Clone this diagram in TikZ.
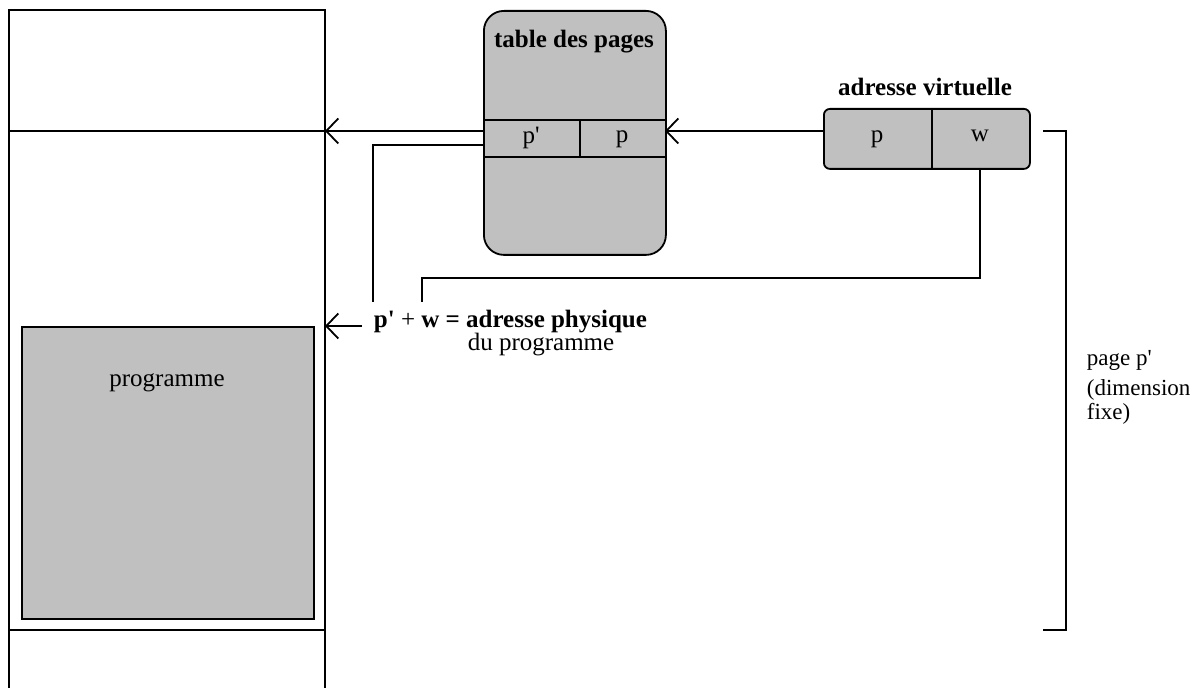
\documentclass[tikz,border=0pt]{standalone}
\usepackage{fontspec}
\setmainfont{Liberation Serif}
\usetikzlibrary{arrows.meta}
\definecolor{shade}{HTML}{C0C0C0}
\newcommand{\prm}{\textquotesingle}
\begin{document}
\begin{tikzpicture}[x=0.5pt,y=-0.5pt,
  line width=0.9pt,
  every node/.style={font=\fontsize{12.5}{14}\selectfont, inner sep=0pt},
  arr/.style={-{Straight Barb[length=6pt,width=12.5pt]}},
  box/.style={draw, fill=shade, anchor=north west},
  lbl/.style={font=\fontsize{12.5}{14}\selectfont\bfseries},
  side/.style={anchor=west, align=left, font=\fontsize{11.5}{10}\selectfont}]
\useasboundingbox (0,0) rectangle (1197,688);

% memory column
\draw (9,688) -- (9,10) -- (325,10) -- (325,688);
\draw (9,131) -- (325,131);
\draw (9,630) -- (325,630);
\coordinate (memA) at (325,131);
\coordinate (memB) at (325,326);

% program block
\node[box, minimum width=146pt, minimum height=146pt] (prog) at (21,326) {};
\node (progtxt) at (167,383) {programme};

% page table
\node[box, rounded corners=10pt, minimum width=91pt, minimum height=122pt] (tbl) at (483,10) {};
\node[lbl] (tbltitle) at (574,42) {table des pages};
\draw (483,120) -- (665,120);
\draw (483,157) -- (665,157);
\draw (580,120) -- (580,157);
\node (pp) at (531,138) {p\prm};
\node (p1) at (622,139) {p};
\coordinate (tblL) at (483,131);
\coordinate (tblL2) at (483,145);
\coordinate (tblR) at (665,131);

% virtual address
\node[box, rounded corners=3pt, minimum width=103pt, minimum height=30pt] (va) at (823,108) {};
\draw (932,108) -- (932,168);
\node[lbl] (vatitle) at (925,87) {adresse virtuelle};
\node (vp) at (877,139) {p};
\node (vw) at (980,136) {w};
\coordinate (vaL) at (823,131);
\coordinate (vaW) at (980,168);

% connectors
\draw[arr] (vaL) -- (tblR);
\draw[arr] (tblL) -- (memA);
\coordinate (c1) at (373,145);
\coordinate (c1e) at (373,302);
\draw (tblL2) -- (c1) -- (c1e);
\coordinate (c2) at (980,278);
\coordinate (c3) at (422,278);
\coordinate (c3e) at (422,302);
\draw (vaW) -- (c2) -- (c3) -- (c3e);

% physical address
\node[anchor=west] (phys) at (373,322) {\textbf{p\prm} + \textbf{w = adresse physique}};
\node (physsub) at (541,345) {du programme};
\coordinate (physL) at (362,326);
\draw[arr] (physL) -- (memB);

% page bracket
\coordinate (bt) at (1043,131);
\coordinate (bb) at (1043,630);
\draw (bt) -- (1066,131) -- (1066,630) -- (bb);
\node[side] (pg) at (1086,360) {page p\prm};
\node[side] (dim) at (1086,402) {(dimension\\fixe)};
\end{tikzpicture}
\end{document}
